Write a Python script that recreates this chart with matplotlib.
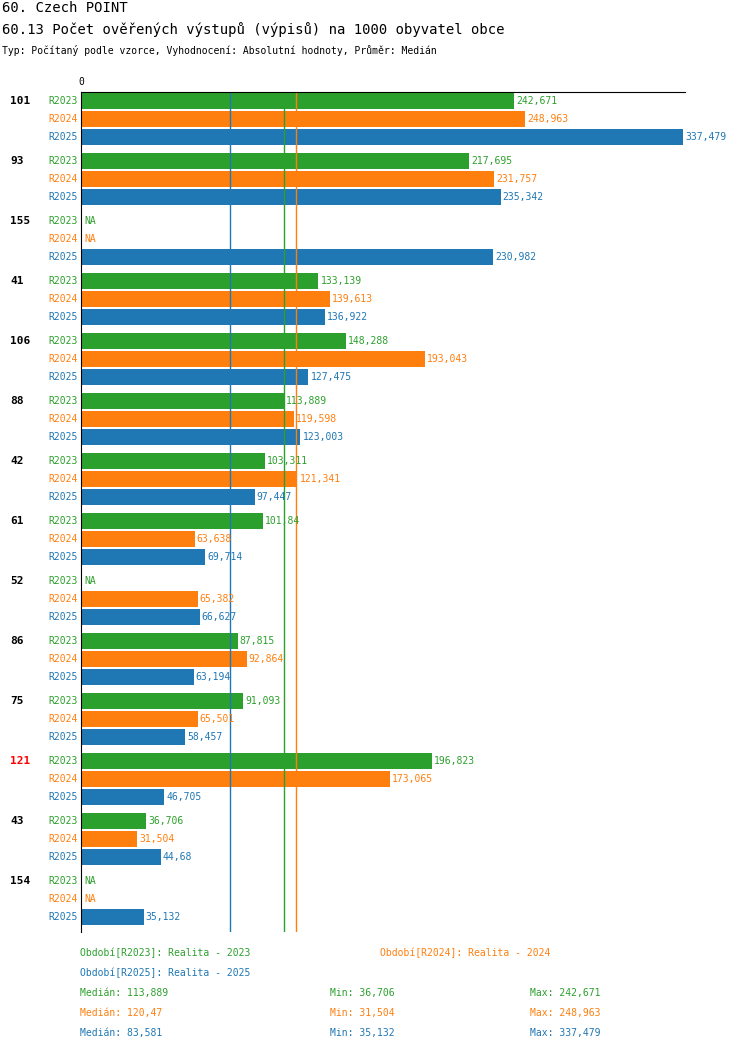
import matplotlib
matplotlib.use("Agg")
import matplotlib.pyplot as plt
import numpy as np

groups = ["101", "93", "155", "41", "106", "88", "42", "61", "52", "86", "75", "121", "43", "154"]
series = ["R2023", "R2024", "R2025"]
r2023 = [242.671, 217.695, None, 133.139, 148.288, 113.889, 103.311, 101.84, None, 87.815, 91.093, 196.823, 36.706, None]
r2024 = [248.963, 231.757, None, 139.613, 193.043, 119.598, 121.341, 63.638, 65.382, 92.864, 65.501, 173.065, 31.504, None]
r2025 = [337.479, 235.342, 230.982, 136.922, 127.475, 123.003, 97.447, 69.714, 66.627, 63.194, 58.457, 46.705, 44.68, 35.132]
medians = [113.889, 120.47, 83.581]
mins = [36.706, 31.504, 35.132]
maxs = [242.671, 248.963, 337.479]
colors = ["#2ca02c", "#ff7f0e", "#1f77b4"]
highlight = {"121": "red"}

W, H = 750, 1052
fig = plt.figure(figsize=(W/100, H/100), dpi=100)
FONT = "DejaVu Sans Mono"
plt.rcParams["font.family"] = FONT

def fmt(v):
    return f"{v:g}".replace(".", ",")

x0, x1, ytop, ybot = 81, 685, 92, 932
ax = fig.add_axes([x0/W, 1-ybot/H, (x1-x0)/W, (ybot-ytop)/H])
xmax = 337.479 * (x1 - x0) / (683 - x0)
ax.set_xlim(0, xmax)
ax.set_ylim(ybot, ytop)
for s in ["right", "bottom"]:
    ax.spines[s].set_visible(False)
ax.spines["top"].set_color("black")
ax.spines["left"].set_color("black")
ax.set_xticks([])
ax.set_yticks([])

data = [r2023, r2024, r2025]
px = (x1 - x0) / xmax
for g, name in enumerate(groups):
    base = 101 + 60*g
    fig.text(10/W, 1-base/H, name, fontsize=8, fontweight="bold", va="center",
             color=highlight.get(name, "black"))
    for k in range(3):
        y = base + 18*k
        v = data[k][g]
        fig.text(78/W, 1-y/H, series[k], fontsize=7, va="center", ha="right", color=colors[k])
        if v is None:
            ax.text(3/px, y, "NA", fontsize=7, va="center", color=colors[k])
        else:
            ax.barh(y, v, height=16, color=colors[k])
            ax.text(v + 2/px, y, fmt(v), fontsize=7, va="center", color=colors[k])

for m, c in zip(medians, colors):
    ax.axvline(m, color=c, lw=1)

fig.text(x0/W, 1-82/H, "0", fontsize=7, ha="center", va="center")
fig.text(2/W, 1-8/H, "60. Czech POINT", fontsize=10, va="center")
fig.text(2/W, 1-30/H, "60.13 Počet ověřených výstupů (výpisů) na 1000 obyvatel obce", fontsize=10, va="center")
fig.text(2/W, 1-50/H, "Typ: Počítaný podle vzorce, Vyhodnocení: Absolutní hodnoty, Průměr: Medián", fontsize=7, va="center")

fig.text(80/W, 1-953/H, "Období[R2023]: Realita - 2023", fontsize=7, va="center", color=colors[0])
fig.text(380/W, 1-953/H, "Období[R2024]: Realita - 2024", fontsize=7, va="center", color=colors[1])
fig.text(80/W, 1-973/H, "Období[R2025]: Realita - 2025", fontsize=7, va="center", color=colors[2])
for k in range(3):
    y = 993 + 20*k
    fig.text(80/W, 1-y/H, "Medián: " + fmt(medians[k]), fontsize=7, va="center", color=colors[k])
    fig.text(330/W, 1-y/H, "Min: " + fmt(mins[k]), fontsize=7, va="center", color=colors[k])
    fig.text(530/W, 1-y/H, "Max: " + fmt(maxs[k]), fontsize=7, va="center", color=colors[k])

fig.savefig("out.png", dpi=100)
